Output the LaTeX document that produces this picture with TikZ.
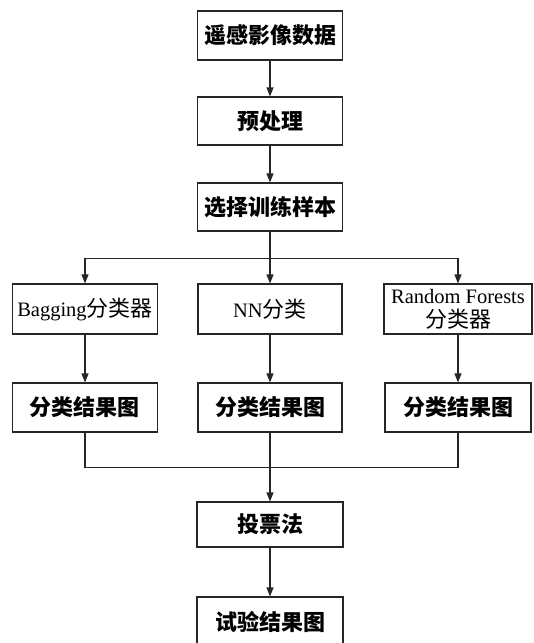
\documentclass[tikz,border=0pt]{standalone}
\usepackage{fontspec}
\setmainfont{Liberation Serif}
\newfontfamily\cjk{Noto Sans CJK SC}
\usetikzlibrary{arrows.meta}
\begin{document}
\begin{tikzpicture}[x=1pt,y=-1pt,
  box/.style={draw=black!85, line width=1.1pt, rectangle, inner sep=0pt, align=center,
    font=\fontsize{20.5}{22}\selectfont},
  bbox/.style={box, font=\fontsize{22}{24}\selectfont\cjk\bfseries},
  link/.style={draw=black!85, line width=1.1pt},
  arr/.style={link, -{Triangle[length=9pt,width=7pt]}}]
\useasboundingbox (0,0) rectangle (534,643);
\node[bbox, minimum width=145pt, minimum height=49pt] (n1) at (270,35.5) {遥感影像数据};
\node[bbox, minimum width=145pt, minimum height=48pt] (n2) at (270,121) {预处理};
\node[bbox, minimum width=145pt, minimum height=48pt] (n3) at (270,207) {选择训练样本};
\node[box, minimum width=145pt, minimum height=50pt] (b1) at (85,309) {Bagging{\cjk\fontsize{22}{24}\selectfont 分类器}};
\node[box, minimum width=144pt, minimum height=50pt] (b2) at (270,309) {NN{\cjk\fontsize{22}{24}\selectfont 分类}};
\node[box, minimum width=148pt, minimum height=50pt] (b3) at (458,309) {Random Forests\\[2pt]{\cjk\fontsize{22}{24}\selectfont 分类器}};
\node[bbox, minimum width=145pt, minimum height=49pt] (r1) at (85,407.5) {分类结果图};
\node[bbox, minimum width=144pt, minimum height=49pt] (r2) at (270,407.5) {分类结果图};
\node[bbox, minimum width=146pt, minimum height=49pt] (r3) at (458,407.5) {分类结果图};
\node[bbox, minimum width=146pt, minimum height=45pt] (v) at (270,524.5) {投票法};
\node[bbox, minimum width=146pt, minimum height=49pt] (f) at (270,621.5) {试验结果图};
\coordinate (split) at (270,258.5);
\coordinate (merge) at (270,467.5);
\draw[arr] (n1.south) -- (n2.north);
\draw[arr] (n2.south) -- (n3.north);
\draw[link] (n3.south) -- (split);
\draw[arr] (split) -- (b2.north);
\draw[arr] (split) -| (b1.north);
\draw[arr] (split) -| (b3.north);
\draw[arr] (b1.south) -- (r1.north);
\draw[arr] (b2.south) -- (r2.north);
\draw[arr] (b3.south) -- (r3.north);
\draw[link] (r1.south) |- (merge);
\draw[link] (r3.south) |- (merge);
\draw[link] (r2.south) -- (merge);
\draw[arr] (merge) -- (v.north);
\draw[arr] (v.south) -- (f.north);
\end{tikzpicture}
\end{document}
